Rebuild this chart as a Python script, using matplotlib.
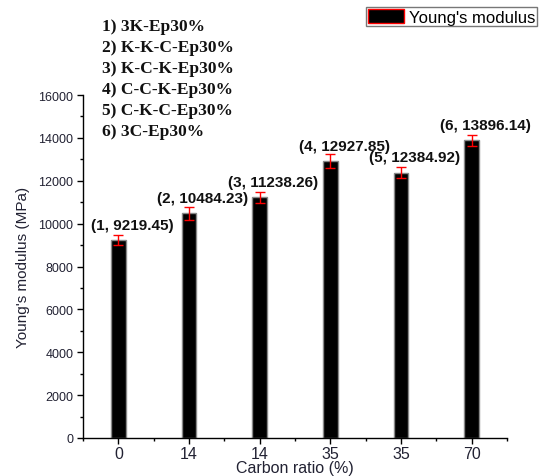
import matplotlib
matplotlib.use('Agg')
import matplotlib.pyplot as plt
from matplotlib.patches import Patch
from matplotlib.ticker import MultipleLocator, FixedLocator

# sample index, carbon ratio tick text, modulus (MPa) and error bar size
samples = [1, 2, 3, 4, 5, 6]
carbon_ratio = ['0', '14', '14', '35', '35', '70']
modulus = [9219.45, 10484.23, 11238.26, 12927.85, 12384.92, 13896.14]
modulus_err = [235, 300, 260, 330, 235, 260]
sample_names = ['1) 3K-Ep30%', '2) K-K-C-Ep30%', '3) K-C-K-Ep30%',
                '4) C-C-K-Ep30%', '5) C-K-C-Ep30%', '6) 3C-Ep30%']

plt.rcParams['font.family'] = ['Liberation Sans', 'DejaVu Sans']
tick_col = '#222233'

fig = plt.figure(figsize=(5.39, 4.77), dpi=100)
ax = fig.add_axes([0.154, 0.0797, 0.7866, 0.719])

ax.bar(samples, modulus, width=0.21, color='black', edgecolor='#888888', linewidth=1)
ax.errorbar(samples, modulus, yerr=modulus_err, fmt='none', ecolor='red',
            elinewidth=1, capsize=3.5, capthick=1)

for s, v in zip(samples, modulus):
    ax.annotate(f'({s}, {v:.2f})', xy=(s, v), xytext=(10, 11), textcoords='offset points',
                ha='center', va='center', fontsize=11, fontweight='bold', color='#111111')

ax.set_xlim(0.5, 6.5)
ax.set_ylim(0, 16000)
ax.set_xticks(samples)
ax.set_xticklabels(carbon_ratio)
ax.xaxis.set_minor_locator(FixedLocator([0.5, 1.5, 2.5, 3.5, 4.5, 5.5, 6.5]))
ax.yaxis.set_major_locator(MultipleLocator(2000))
ax.yaxis.set_minor_locator(MultipleLocator(1000))

ax.spines['top'].set_visible(False)
ax.spines['right'].set_visible(False)
for sp in ['left', 'bottom']:
    ax.spines[sp].set_linewidth(1)
ax.tick_params(axis='both', which='major', direction='out', length=4, width=1)
ax.tick_params(axis='both', which='minor', direction='out', length=2.5, width=1)
ax.tick_params(axis='y', labelsize=9, labelcolor=tick_col, pad=3)
ax.tick_params(axis='x', labelsize=11.5, labelcolor=tick_col, pad=2)

ax.set_xlabel('Carbon ratio (%)', fontsize=11.5, color=tick_col, labelpad=-1)
ax.set_ylabel("Young's modulus (MPa)", fontsize=11, color=tick_col, labelpad=6)

# sample key in the upper left
for i, name in enumerate(sample_names):
    fig.text(102 / 539, 1 - (27 + 21 * i) / 477, name, ha='left', va='center',
             fontsize=12.5, fontweight='bold', family=['Liberation Serif', 'DejaVu Serif'],
             color='#111111')

handle = Patch(facecolor='black', edgecolor='red', linewidth=1)
leg = fig.legend([handle], ["Young's modulus"], loc='upper left',
                 bbox_to_anchor=(366 / 539, 1 - 8 / 477), fontsize=12,
                 fancybox=False, edgecolor='#777777', framealpha=1,
                 borderpad=0.1, handlelength=2.2, handleheight=0.95,
                 handletextpad=0.3, borderaxespad=0)
leg.get_frame().set_linewidth(1)

fig.savefig('out.png', dpi=100)
